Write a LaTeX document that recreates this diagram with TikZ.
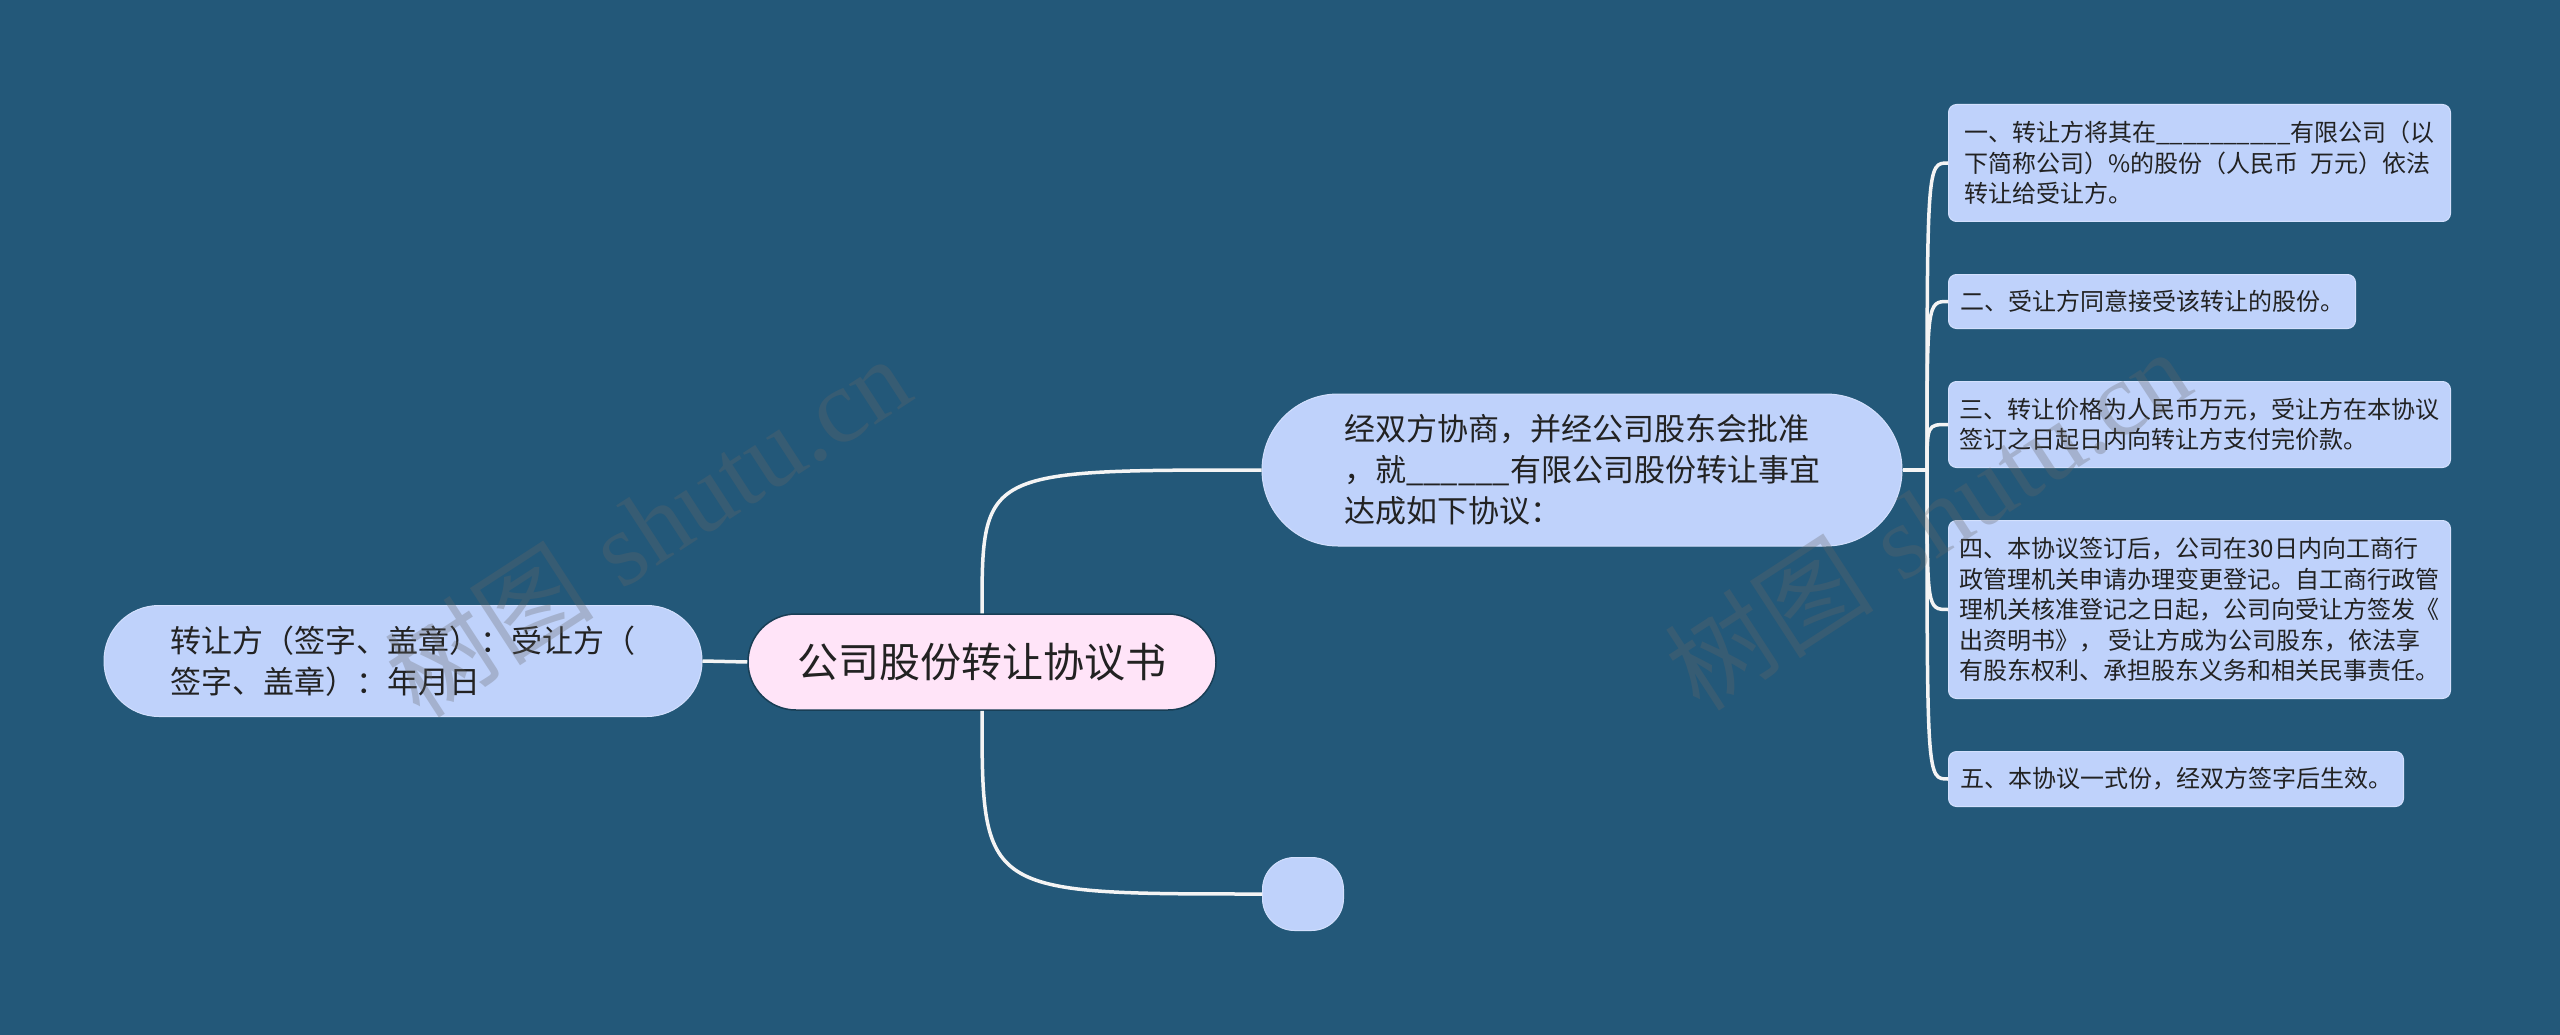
\documentclass[tikz,border=0pt]{standalone}
\usepackage{fontspec}
\newfontfamily\cjk{Noto Sans CJK SC}
\newfontfamily\wmserif{Liberation Serif}
\definecolor{bg}{HTML}{235879}
\definecolor{leaf}{HTML}{BFD2FB}
\definecolor{leafedge}{HTML}{D3E0FD}
\definecolor{pinkc}{HTML}{FFE4F8}
\definecolor{txt}{HTML}{222222}
\definecolor{lnk}{HTML}{F4F4F4}
\tikzset{
  leafbox/.style={draw=leafedge, line width=1pt, fill=leaf, rounded corners=8pt,
    anchor=north west, inner xsep=0pt, inner ysep=0pt, align=left, text=txt,
    font=\cjk\fontsize{24pt}{30.5pt}\selectfont},
  pillbox/.style={draw=leafedge, line width=1pt, fill=leaf, inner sep=0pt, align=left, text=txt,
    font=\cjk\fontsize{31pt}{41pt}\selectfont},
  rootbox/.style={draw=bg!70!black, line width=1.5pt, fill=pinkc, inner sep=0pt, text=txt,
    font=\cjk\fontsize{41pt}{48pt}\selectfont},
  link/.style={draw=lnk, line width=3.5pt},
  wmark/.style={text=black!60, text opacity=0.3, rotate=33}
}
\begin{document}
\begin{tikzpicture}[x=1pt,y=-1pt]
\useasboundingbox (0,0) rectangle (2560,1035);
\fill[bg] (0,0) rectangle (2560,1035);

% root
\node[rootbox, minimum width=468pt, minimum height=96pt, rounded corners=48pt] (c) at (982,662) {公司股份转让协议书};

% left
\node[pillbox, minimum width=598pt, minimum height=111pt, rounded corners=55pt] (l) at (403,661)
  {转让方（签字、盖章）：受让方（\hspace{14pt}\\签字、盖章）：年月日};

% main top-right
\node[pillbox, minimum width=640pt, minimum height=152pt, rounded corners=76pt] (m) at (1582,470)
  {经双方协商，并经公司股东会批准\\，就\_\_\_\_\_\_有限公司股份转让事宜\\达成如下协议：};

% empty
\node[draw=leafedge, line width=1pt, fill=leaf, minimum width=81pt, minimum height=73pt, rounded corners=32pt, inner sep=0pt] (e) at (1303,894) {};

% leaves
\node[leafbox, minimum width=502pt, minimum height=117pt] (a1) at (1948,104)
  {一、转让方将其在\_\_\_\_\_\_\_\_\_\_有限公司（以\\下简称公司）\%的股份（人民币\hspace{12pt}万元）依法\\转让给受让方。};
\node[leafbox, minimum width=407pt, minimum height=54pt] (a2) at (1948,274)
  {二、受让方同意接受该转让的股份。};
\node[leafbox, minimum width=502pt, minimum height=86pt] (a3) at (1948,381)
  {三、转让价格为人民币万元，受让方在本协议\\签订之日起日内向转让方支付完价款。\hspace{96pt}};
\node[leafbox, minimum width=502pt, minimum height=178pt] (a4) at (1948,520)
  {四、本协议签订后，公司在30日内向工商行\\政管理机关申请办理变更登记。自工商行政管\\理机关核准登记之日起，公司向受让方签发《\\出资明书》， 受让方成为公司股东，依法享\\有股东权利、承担股东义务和相关民事责任。};
\node[leafbox, minimum width=455pt, minimum height=55pt] (a5) at (1948,751)
  {五、本协议一式份，经双方签字后生效。};

% connectors
\draw[link] (c.west) -- (l.east);
\draw[link] (c.north) .. controls (c.north |- m.west) .. (m.west);
\draw[link] (c.south) .. controls (c.south |- e.west) .. (e.west);

\coordinate (j) at (1927,470);
\draw[link] (m.east) -- (j);
\foreach \n in {a1,a2,a3,a4,a5}{
  \draw[link] (j) .. controls (j |- \n.west) .. (\n.west);
}

% watermarks
\node[wmark] (w1) at (647,526) {{\cjk\fontsize{105pt}{105pt}\selectfont 树图}\hspace{30pt}{\wmserif\fontsize{105pt}{105pt}\selectfont shutu.cn}};
\node[wmark] (w2) at (1927,519) {{\cjk\fontsize{105pt}{105pt}\selectfont 树图}\hspace{30pt}{\wmserif\fontsize{105pt}{105pt}\selectfont shutu.cn}};
\end{tikzpicture}
\end{document}
